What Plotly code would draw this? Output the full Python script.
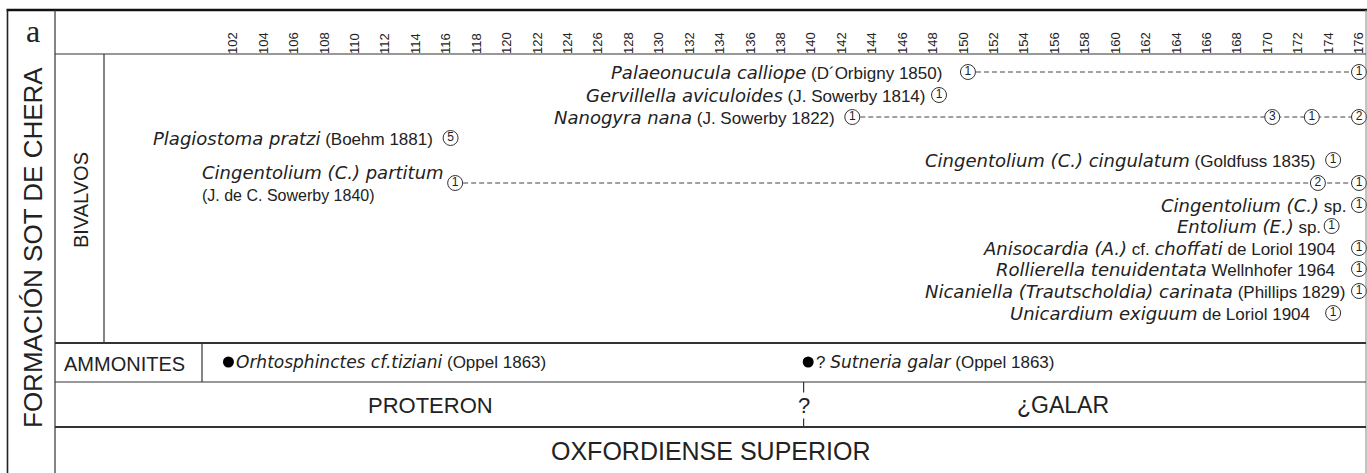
import plotly.graph_objects as go

W, H = 1367, 473

# ---------------- data ----------------
tick_levels = list(range(102, 177, 2))

taxa_labels = [
    "<i>Palaeonucula calliope</i> (D´Orbigny 1850)",
    "<i>Gervillella aviculoides</i> (J. Sowerby 1814)",
    "<i>Nanogyra nana</i> (J. Sowerby 1822)",
    "<i>Plagiostoma pratzi</i> (Boehm 1881)",
    "<i>Cingentolium (C.) cingulatum</i> (Goldfuss 1835)",
    "<i>Cingentolium (C.) partitum</i><br><span style=\"font-size:16px\">(J. de C. Sowerby 1840)</span>",
    "<i>Cingentolium (C.)</i> sp.",
    "<i>Entolium (E.)</i> sp.",
    "<i>Anisocardia (A.)</i> cf. <i>choffati</i> de Loriol 1904",
    "<i>Rollierella tenuidentata</i> Wellnhofer 1964",
    "<i>Nicaniella (Trautscholdia) carinata</i> (Phillips 1829)",
    "<i>Unicardium exiguum</i> de Loriol 1904",
]
taxa_levels = [
    [150.3, 176],
    [148.4],
    [142.7, 170.3, 172.9, 176],
    [116.3],
    [174.3],
    [116.6, 173.3, 176],
    [176],
    [174.2],
    [176],
    [176],
    [176],
    [174.3],
]
taxa_counts = [
    [1, 1],
    [1],
    [1, 3, 1, 2],
    [5],
    [1],
    [1, 2, 1],
    [1],
    [1],
    [1],
    [1],
    [1],
    [1],
]

ammonite_labels = [
    "<i>Orhtosphinctes cf.tiziani</i> (Oppel 1863)",
    "? <i>Sutneria galar</i> (Oppel 1863)",
]
ammonite_levels = [101.7, 139.8]

zone_labels = ["PROTERON", "¿GALAR"]
zone_boundary = 139.5
stage_label = "OXFORDIENSE SUPERIOR"
formation_label = "FORMACIÓN SOT DE CHERA"
group_labels = ["BIVALVOS", "AMMONITES"]
panel_letter = "a"

# ---------------- layout / style (pixel positions) ----------------
row_y = [72, 95, 117, 138, 160, 183, 205, 226, 248, 269, 291, 313]
label_gap = [24, 12, 15, 16, 15, 9, 11, 9, 22, 22, 12, 21]
amm_y = 362

px_per_unit = (1359 - 233) / 74.0
x0 = 102 - 233 / px_per_unit
x1 = x0 + W / px_per_unit

SANS = "Liberation Sans, Arial, sans-serif"
ITAL = "DejaVu Sans, sans-serif"
TXT = "#222222"
LINE = "#333333"


def styled(s, isize=18):
    s = s.replace("<i>", f'<span style="font-family:{ITAL};font-style:italic;font-size:{isize}px">')
    s = s.replace("</i>", "</span>")
    return s


def px(x):
    return x / W


fig = go.Figure()

# dashed range lines
for lv, yy in zip(taxa_levels, row_y):
    if len(lv) > 1:
        fig.add_trace(go.Scatter(
            x=[lv[0], lv[-1]], y=[yy, yy], mode="lines",
            line=dict(color="#444444", width=1, dash="5px,3px"),
            hoverinfo="skip", showlegend=False))

# circled occurrence counts
mx, my, mt = [], [], []
for lv, cn, yy in zip(taxa_levels, taxa_counts, row_y):
    for l, c in zip(lv, cn):
        mx.append(l)
        my.append(yy)
        mt.append(str(c))
fig.add_trace(go.Scatter(
    x=mx, y=my, mode="markers+text", text=mt, textposition="middle center",
    textfont=dict(family=SANS, size=12, color=TXT),
    marker=dict(symbol="circle", size=15, color="white",
                line=dict(color="#333333", width=1)),
    hoverinfo="skip", showlegend=False))

# ammonite dots
fig.add_trace(go.Scatter(
    x=ammonite_levels, y=[amm_y] * len(ammonite_levels), mode="markers",
    marker=dict(symbol="circle", size=11, color="black"),
    hoverinfo="skip", showlegend=False))

ann = []
# taxa labels
for lab, lv, yy, g in zip(taxa_labels, taxa_levels, row_y, label_gap):
    ann.append(dict(x=lv[0], y=yy, xref="x", yref="y", text=styled(lab),
                    xanchor="right", yanchor="middle", align="left", xshift=-g,
                    showarrow=False, font=dict(family=SANS, size=17, color=TXT)))
# ammonite labels
for lab, lv in zip(ammonite_labels, ammonite_levels):
    ann.append(dict(x=lv, y=amm_y, xref="x", yref="y", text=styled(lab, isize=17),
                    xanchor="left", yanchor="middle", xshift=6,
                    showarrow=False, font=dict(family=SANS, size=17, color=TXT)))


def center_text(x, y, text, size, angle=0, family=SANS):
    ann.append(dict(x=px(x), y=y, xref="paper", yref="y", text=text, textangle=angle,
                    xanchor="center", yanchor="middle", showarrow=False,
                    font=dict(family=family, size=size, color=TXT)))


center_text(430, 405, zone_labels[0], 22)
center_text(1063, 405, zone_labels[1], 23)
ann.append(dict(x=zone_boundary, y=405, xref="x", yref="y", text="?", bgcolor="white",
                borderpad=0, xanchor="center", yanchor="middle", showarrow=False,
                font=dict(family=SANS, size=22, color=TXT)))
center_text(711, 451, stage_label, 25)
center_text(33, 248, formation_label, 26, angle=-90)
center_text(81, 200, group_labels[0], 20, angle=-90)
center_text(124, 364, group_labels[1], 20)
center_text(33, 31, panel_letter, 32, family="Liberation Serif, serif")

# frame lines (pixel coordinates)
shapes = []


def hline(y, xa, xb, w=1.2, c=LINE):
    shapes.append(dict(type="line", xref="paper", yref="y", x0=px(xa), x1=px(xb),
                       y0=y, y1=y, line=dict(color=c, width=w)))


def vline(x, ya, yb, w=1.2, c=LINE, xref="paper"):
    xx = px(x) if xref == "paper" else x
    shapes.append(dict(type="line", xref=xref, yref="y", x0=xx, x1=xx,
                       y0=ya, y1=yb, line=dict(color=c, width=w)))


hline(10, 6.5, 1367, w=2.5, c="#111111")
vline(7.5, 10, 473, w=1.6, c="#222222")
vline(1366, 10, 473, w=1, c="#888888")
vline(55, 10, 473, w=1.2)
hline(54, 55, 1366, w=1.2)
vline(104, 54, 343, w=1.2)
hline(343, 55, 1366, w=2)
vline(202, 343, 382, w=1.2)
hline(382, 55, 1366, w=1.2)
vline(zone_boundary, 382, 427, w=1.2, xref="x")
hline(427, 55, 1366, w=2)

fig.update_layout(
    width=W, height=H, margin=dict(l=0, r=0, t=0, b=0),
    paper_bgcolor="white", plot_bgcolor="white",
    showlegend=False, annotations=ann, shapes=shapes,
    xaxis=dict(range=[x0, x1], side="top", anchor="free", position=1 - 54 / H,
               tickvals=tick_levels, ticktext=[str(t) for t in tick_levels],
               tickangle=-90, ticks="", showgrid=False, zeroline=False, showline=False,
               tickfont=dict(family=SANS, size=13, color=TXT), fixedrange=True),
    yaxis=dict(range=[H, 0], visible=False, showgrid=False, zeroline=False,
               domain=[0, 1], fixedrange=True),
)

fig.write_html(
    "out.html",
    config={"displayModeBar": False},
    post_script="document.body.style.margin='0';"
                "document.documentElement.style.overflow='hidden';",
)
